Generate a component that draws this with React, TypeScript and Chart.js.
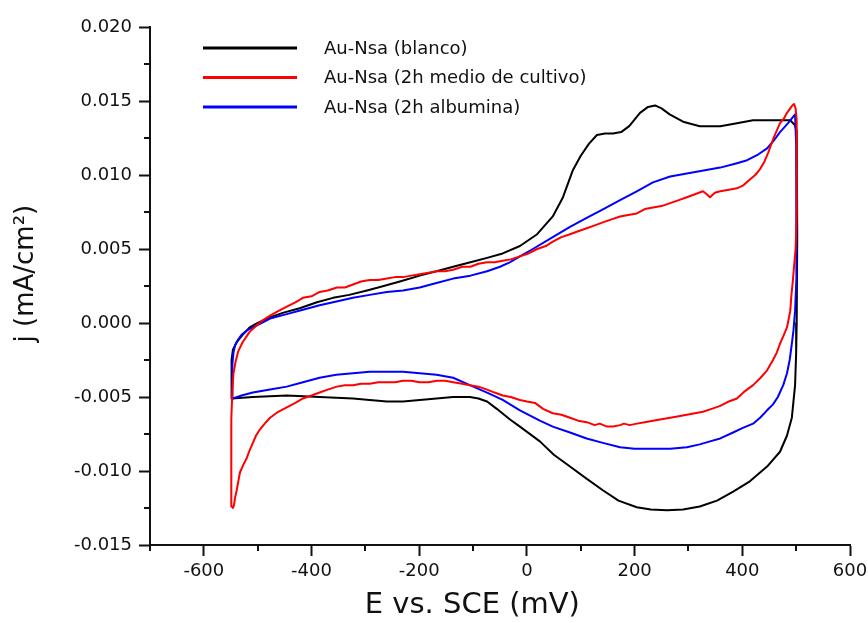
import React, { useEffect, useRef } from "react";
import { Chart, registerables } from "chart.js";

Chart.register(...registerables);

// ---- axis ticks ----
const xTickValues = [-600, -400, -200, 0, 200, 400, 600];
const xMinorTicks = [-700, -500, -300, -100, 100, 300, 500];
const yTickValues = [-0.015, -0.01, -0.005, 0, 0.005, 0.01, 0.015, 0.02];
const yMinorTicks = [-0.0125, -0.0075, -0.0025, 0.0025, 0.0075, 0.0125, 0.0175];

const seriesLabels = [
  "Au-Nsa (blanco)",
  "Au-Nsa (2h medio de cultivo)",
  "Au-Nsa (2h albumina)",
];
const seriesColors = ["#000000", "#ff0000", "#0000ff"];

// ---- Au-Nsa (blanco) : E (mV), j (mA/cm2) ----
const blancoE = [
  -548, -549, -548, -546, -539, -528, -515, -500, -483, -452, -422, -390, -360, -330, -297, -266,
  -236, -199, -168, -137, -105, -74, -45, -13, 19, 48, 67, 85, 100, 115, 130, 145, 160, 175, 190,
  210, 225, 238, 250, 265, 290, 321, 359, 390, 420, 445, 470, 489, 497, 501, 502, 501, 500, 498,
  492, 483, 470, 446, 414, 383, 353, 321, 290, 260, 230, 204, 170, 141, 110, 80, 50, 24, -13, -32,
  -56, -74, -90, -106, -137, -168, -199, -230, -260, -292, -323, -385, -446, -509, -548,
];
const blancoJ = [
  -0.0051, -0.0035, -0.0025, -0.0018, -0.0013, -0.0008, -0.0003, 0.0, 0.0003, 0.0007, 0.001,
  0.0014, 0.0017, 0.0019, 0.0022, 0.0025, 0.0028, 0.0032, 0.0035, 0.0038, 0.0041, 0.0044, 0.0047,
  0.0052, 0.006, 0.0072, 0.0085, 0.0103, 0.0113, 0.0121, 0.0127, 0.0128, 0.0128, 0.0129, 0.0133,
  0.0142, 0.0146, 0.0147, 0.0145, 0.0141, 0.0136, 0.0133, 0.0133, 0.0135, 0.0137, 0.0137, 0.0137,
  0.0137, 0.0134, 0.013, 0.006, 0.0, -0.002, -0.0042, -0.0064, -0.0076, -0.0087, -0.0097, -0.0107,
  -0.0114, -0.012, -0.0124, -0.0126, -0.01265, -0.0126, -0.01245, -0.012, -0.0113, -0.0105,
  -0.0097, -0.0089, -0.008, -0.007, -0.0065, -0.0058, -0.0053, -0.0051, -0.005, -0.005, -0.0051,
  -0.0052, -0.0053, -0.0053, -0.0052, -0.0051, -0.005, -0.0049, -0.005, -0.0051,
];

// ---- Au-Nsa (2h medio de cultivo) ----
const medioE = [
  -548, -549, -549, -547, -545, -541, -536, -528, -515, -500, -490, -477, -462, -446, -430, -416,
  -400, -385, -370, -353, -338, -323, -308, -292, -276, -260, -245, -230, -215, -199, -183, -167,
  -152, -137, -120, -105, -90, -74, -60, -45, -30, -13, 3, 19, 35, 48, 64, 80, 95, 111, 126, 141,
  157, 173, 188, 204, 219, 234, 250, 266, 282, 297, 312, 327, 334, 340, 349, 359, 375, 390, 402,
  414, 424, 433, 441, 448, 457, 464, 470, 477, 483, 489, 493, 496, 499, 501, 501, 501, 499, 496,
  494, 491, 489, 483, 476, 470, 464, 457, 446, 434, 420, 405, 390, 375, 359, 343, 327, 312, 297,
  282, 266, 250, 234, 219, 204, 191, 180, 173, 160, 149, 135, 126, 111, 95, 80, 64, 48, 30, 15, 0,
  -13, -30, -45, -60, -74, -90, -106, -120, -137, -152, -167, -183, -199, -215, -230, -245, -260,
  -276, -292, -308, -323, -338, -353, -370, -385, -400, -416, -430, -446, -462, -477, -487, -496,
  -503, -509, -515, -520, -527, -533, -536, -539, -542, -544, -546, -548,
];
const medioJ = [
  -0.0124, -0.0095, -0.0065, -0.0045, -0.0034, -0.0026, -0.0019, -0.0013, -0.0006, -0.0001,
  0.0002, 0.0005, 0.0008, 0.0011, 0.0014, 0.0017, 0.0018, 0.0021, 0.0022, 0.0024, 0.0024, 0.0026,
  0.0028, 0.0029, 0.0029, 0.003, 0.0031, 0.0031, 0.0032, 0.0033, 0.0034, 0.0035, 0.0035, 0.0036,
  0.0038, 0.0038, 0.004, 0.0041, 0.0041, 0.0042, 0.0043, 0.0045, 0.0047, 0.005, 0.0052, 0.0055,
  0.0058, 0.006, 0.0062, 0.0064, 0.0066, 0.0068, 0.007, 0.0072, 0.0073, 0.0074, 0.0077, 0.0078,
  0.0079, 0.0081, 0.0083, 0.0085, 0.0087, 0.0089, 0.0087, 0.0085, 0.0088, 0.0089, 0.009, 0.0091,
  0.0093, 0.0097, 0.01, 0.0104, 0.0109, 0.0115, 0.0124, 0.013, 0.0135, 0.0138, 0.0142, 0.0145,
  0.0147, 0.0148, 0.0145, 0.0137, 0.01, 0.0074, 0.005, 0.0038, 0.0029, 0.0018, 0.0008, -0.0003,
  -0.0009, -0.0014, -0.002, -0.0025, -0.0032, -0.0037, -0.0042, -0.0046, -0.0051, -0.0053,
  -0.0056, -0.0058, -0.006, -0.0061, -0.0062, -0.0063, -0.0064, -0.0065, -0.0066, -0.0067,
  -0.0068, -0.0069, -0.0068, -0.0069, -0.007, -0.007, -0.0068, -0.0069, -0.0067, -0.0066, -0.0064,
  -0.0062, -0.0061, -0.0058, -0.0054, -0.0053, -0.0052, -0.005, -0.0049, -0.0047, -0.0045,
  -0.0043, -0.0042, -0.0041, -0.004, -0.0039, -0.0039, -0.004, -0.004, -0.0039, -0.0039, -0.004,
  -0.004, -0.004, -0.0041, -0.0041, -0.0042, -0.0042, -0.0043, -0.0045, -0.0047, -0.0049,
  -0.0051, -0.0054, -0.0057, -0.006, -0.0064, -0.0068, -0.0072, -0.0076, -0.0081, -0.0086,
  -0.0091, -0.0096, -0.0101, -0.0107, -0.0113, -0.0118, -0.0123, -0.0125, -0.0124,
];

// ---- Au-Nsa (2h albumina) ----
const albuminaE = [
  -546, -547, -547, -545, -542, -536, -530, -520, -509, -493, -477, -446, -416, -385, -360, -323,
  -292, -260, -230, -199, -168, -137, -105, -74, -50, -32, -13, 11, 48, 80, 111, 142, 173, 204,
  234, 266, 297, 328, 359, 390, 409, 430, 446, 460, 470, 485, 498, 500, 501, 500, 498, 495, 492,
  488, 483, 476, 466, 457, 446, 433, 420, 400, 383, 359, 340, 321, 297, 266, 234, 200, 173, 141,
  111, 80, 48, 24, -13, -45, -74, -106, -137, -168, -199, -230, -260, -292, -323, -354, -385,
  -416, -446, -477, -509, -530, -546,
];
const albuminaJ = [
  -0.0051, -0.0038, -0.0028, -0.002, -0.0015, -0.0011, -0.0008, -0.0005, -0.0003, 0.0, 0.0003,
  0.0006, 0.0009, 0.0012, 0.0014, 0.0017, 0.0019, 0.0021, 0.0022, 0.0024, 0.0027, 0.003, 0.0032,
  0.0035, 0.0038, 0.0041, 0.0045, 0.005, 0.0058, 0.0065, 0.0071, 0.0077, 0.0083, 0.0089, 0.0095,
  0.0099, 0.0101, 0.0103, 0.0105, 0.0108, 0.011, 0.0114, 0.0118, 0.0124, 0.0129, 0.0135, 0.0141,
  0.012, 0.007, 0.003, 0.0008, -0.0005, -0.0014, -0.0025, -0.0034, -0.0042, -0.005, -0.0055,
  -0.0059, -0.0064, -0.0068, -0.0071, -0.0074, -0.0078, -0.008, -0.0082, -0.0084, -0.0085,
  -0.0085, -0.0085, -0.0084, -0.0081, -0.0078, -0.0074, -0.007, -0.0066, -0.0059, -0.0052,
  -0.0047, -0.0042, -0.0037, -0.0035, -0.0034, -0.0033, -0.0033, -0.0033, -0.0034, -0.0035,
  -0.0037, -0.004, -0.0043, -0.0045, -0.0047, -0.0049, -0.0051,
];

const FONT = "'DejaVu Sans', 'Liberation Sans', Arial, sans-serif";
const INK = "#111111";

const toPoints = (xs: number[], ys: number[]) => xs.map((x, i) => ({ x, y: ys[i] }));

const minorTicksPlugin = {
  id: "minorTicks",
  afterDraw(chart: any) {
    const { ctx, chartArea, scales } = chart;
    ctx.save();
    ctx.strokeStyle = INK;
    ctx.lineWidth = 2;
    ctx.beginPath();
    xMinorTicks.forEach((v) => {
      const px = Math.round(scales.x.getPixelForValue(v));
      ctx.moveTo(px, chartArea.bottom);
      ctx.lineTo(px, chartArea.bottom + 6);
    });
    yMinorTicks.forEach((v) => {
      const py = Math.round(scales.y.getPixelForValue(v));
      ctx.moveTo(chartArea.left, py);
      ctx.lineTo(chartArea.left - 6, py);
    });
    ctx.stroke();
    ctx.restore();
  },
};

const innerLegendPlugin = {
  id: "innerLegend",
  afterDraw(chart: any) {
    const { ctx } = chart;
    ctx.save();
    chart.data.datasets.forEach((ds: any, i: number) => {
      const y = 48 + i * 29.5;
      ctx.strokeStyle = ds.borderColor;
      ctx.lineWidth = 3;
      ctx.beginPath();
      ctx.moveTo(203, y);
      ctx.lineTo(297, y);
      ctx.stroke();
      ctx.fillStyle = INK;
      ctx.font = `18px ${FONT}`;
      ctx.textBaseline = "middle";
      ctx.textAlign = "left";
      ctx.fillText(ds.label, 324, y + 1);
    });
    ctx.restore();
  },
};

export default function App() {
  const canvasRef = useRef<HTMLCanvasElement | null>(null);

  useEffect(() => {
    if (!canvasRef.current) return;
    const series = [
      [blancoE, blancoJ],
      [medioE, medioJ],
      [albuminaE, albuminaJ],
    ];
    const chart = new Chart(canvasRef.current, {
      type: "scatter",
      data: {
        datasets: series.map(([xs, ys], i) => ({
          label: seriesLabels[i],
          data: toPoints(xs, ys),
          showLine: true,
          borderColor: seriesColors[i],
          backgroundColor: seriesColors[i],
          borderWidth: 2,
          pointRadius: 0,
          pointHoverRadius: 0,
          tension: 0,
          fill: false,
          borderJoinStyle: "round",
          borderCapStyle: "round",
          order: i === 1 ? 0 : i === 2 ? 1 : 2,
        })),
      },
      options: {
        animation: false,
        responsive: false,
        devicePixelRatio: 1,
        layout: { padding: { left: 0, top: 27, right: 18, bottom: 0 } },
        plugins: {
          legend: { display: false },
          tooltip: { enabled: false },
        },
        scales: {
          x: {
            type: "linear",
            position: "bottom",
            min: -700,
            max: 600,
            afterBuildTicks: (s: any) => {
              s.ticks = xTickValues.map((v) => ({ value: v }));
            },
            afterFit: (s: any) => {
              s.height = 78;
              s.paddingLeft = 0;
              s.paddingRight = 0;
            },
            ticks: {
              color: INK,
              padding: 5,
              font: { family: FONT, size: 18 },
              callback: (v: any) => String(v),
            },
            grid: {
              display: true,
              drawOnChartArea: false,
              drawTicks: true,
              tickLength: 11,
              tickWidth: 2,
              tickColor: INK,
            },
            border: { display: true, color: INK, width: 2 },
            title: {
              display: true,
              text: "E vs. SCE (mV)      ",
              color: INK,
              font: { family: FONT, size: 29 },
              padding: { top: 0, bottom: 0 },
            },
          },
          y: {
            type: "linear",
            min: -0.015,
            max: 0.02,
            afterBuildTicks: (s: any) => {
              s.ticks = yTickValues.map((v) => ({ value: v }));
            },
            afterFit: (s: any) => {
              s.width = 150;
            },
            ticks: {
              color: INK,
              padding: 7,
              font: { family: FONT, size: 18 },
              callback: (v: any) => (Math.abs(v) < 1e-9 ? "0.000" : Number(v).toFixed(3)),
            },
            grid: {
              display: true,
              drawOnChartArea: false,
              drawTicks: true,
              tickLength: 11,
              tickWidth: 2,
              tickColor: INK,
            },
            border: { display: true, color: INK, width: 2 },
            title: {
              display: true,
              text: "   j (mA/cm²)",
              color: INK,
              font: { family: FONT, size: 26 },
              padding: { top: 11, bottom: 0 },
            },
          },
        },
      },
      plugins: [minorTicksPlugin, innerLegendPlugin],
    } as any);
    return () => chart.destroy();
  }, []);

  return (
    <div style={{ position: "absolute", left: 0, top: 0, width: 868, height: 623, background: "#fff" }}>
      <canvas ref={canvasRef} width={868} height={623} style={{ display: "block", width: 868, height: 623 }} />
    </div>
  );
}
